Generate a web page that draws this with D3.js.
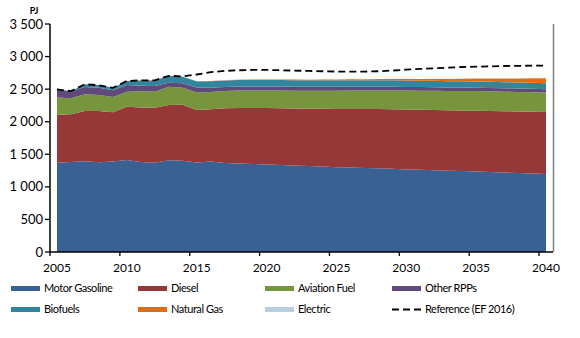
<!DOCTYPE html>
<html>
<head>
<meta charset="utf-8">
<script src="https://cdn.jsdelivr.net/npm/d3@7"></script>
<style>
  body { margin: 0; background: #fff; }
  svg { display: block; font-family: Lato, "Open Sans", sans-serif; }
</style>
</head>
<body>
<svg id="chart" width="580" height="338"></svg>
<script>
var years = d3.range(2005, 2041);
var gasoline = [1370,1380,1395,1378,1388,1412,1383,1370,1407,1400,1372,1388,1366,1360,1352,1345,1337,1328,1320,1311,1302,1296,1290,1284,1277,1268,1262,1256,1249,1242,1235,1228,1220,1212,1205,1197];
var diesel = [735,733,769,786,756,819,837,845,850,862,808,802,839,850,858,865,870,875,880,887,895,900,905,910,915,920,922,925,928,932,935,938,941,945,949,953];
var aviation = [265,247,256,246,236,230,246,246,281,261,270,265,265,268,270,270,272,274,276,278,280,282,284,286,288,290,292,294,296,298,300,300,300,300,300,298];
var otherRPP = [117,106,113,113,102,103,87,87,62,67,75,68,63,62,61,61,60,60,59,59,58,58,57,57,56,56,55,55,54,54,53,53,52,52,51,51];
var biofuels = [8,6,41,39,40,61,81,86,105,100,95,98,100,100,100,100,100,100,100,100,100,100,100,100,99,99,98,97,96,95,95,94,94,93,93,92];
var natGas = [1,1,1,1,1,1,1,1,1,2,3,4,5,6,7,8,9,10,11,12,13,14,16,18,20,22,25,29,33,38,44,50,56,62,70,77];
var electric = [0,0,0,0,0,0,0,0.5,0.5,0.5,1,1,1,1,1,1,1,1,2,2,2,2,2,2,3,3,3,3,3,4,4,4,4,5,5,5];
var reference = [2495,2470,2575,2560,2520,2625,2635,2635,2705,2695,2725,2760,2780,2790,2795,2795,2790,2785,2780,2775,2770,2770,2770,2775,2785,2800,2810,2820,2830,2840,2845,2850,2855,2858,2860,2862];
var yTicks = [0,500,1000,1500,2000,2500,3000,3500];
var xTicks = [2005,2010,2015,2020,2025,2030,2035,2040];

var series = [
  {key: "gasoline", name: "Motor Gasoline", values: gasoline, color: "#3a6193"},
  {key: "diesel", name: "Diesel", values: diesel, color: "#953837"},
  {key: "aviation", name: "Aviation Fuel", values: aviation, color: "#77953d"},
  {key: "otherRPP", name: "Other RPPs", values: otherRPP, color: "#604a7b"},
  {key: "biofuels", name: "Biofuels", values: biofuels, color: "#31869d"},
  {key: "natGas", name: "Natural Gas", values: natGas, color: "#e46c0a"},
  {key: "electric", name: "Electric", values: electric, color: "#b9cde5"}
];

var rows = years.map(function(y, i) {
  var r = {year: y};
  series.forEach(function(s) { r[s.key] = s.values[i]; });
  return r;
});

var svg = d3.select("#chart");
var x = d3.scaleLinear().domain([2004.5, 2040.5]).range([50, 553]);
var y = d3.scaleLinear().domain([0, 3500]).range([252, 24]);

var stack = d3.stack().keys(series.map(function(s) { return s.key; }));
var layers = stack(rows);

var area = d3.area()
  .x(function(d) { return x(d.data.year); })
  .y0(function(d) { return y(d[0]); })
  .y1(function(d) { return y(d[1]); });

svg.append("g").selectAll("path")
  .data(layers)
  .enter().append("path")
  .attr("d", area)
  .attr("fill", function(d, i) { return series[i].color; });

// reference line
var line = d3.line()
  .x(function(d, i) { return x(years[i]); })
  .y(function(d) { return y(d); });

svg.append("path")
  .datum(reference)
  .attr("d", line)
  .attr("fill", "none")
  .attr("stroke", "#000")
  .attr("stroke-width", 1.8)
  .attr("stroke-dasharray", "7,4");

// right border
svg.append("line")
  .attr("x1", 553.5).attr("x2", 553.5)
  .attr("y1", 24).attr("y2", 252)
  .attr("stroke", "#808080").attr("stroke-width", 1.5);

// y axis
var yAxis = svg.append("g");
yAxis.append("line")
  .attr("x1", 50).attr("x2", 50).attr("y1", 24).attr("y2", 252)
  .attr("stroke", "#000").attr("stroke-width", 1.5);
yAxis.selectAll("line.tick")
  .data(yTicks).enter().append("line")
  .attr("class", "tick")
  .attr("x1", 45).attr("x2", 50)
  .attr("y1", function(d) { return y(d); })
  .attr("y2", function(d) { return y(d); })
  .attr("stroke", "#000").attr("stroke-width", 1.3);
yAxis.selectAll("text")
  .data(yTicks).enter().append("text")
  .attr("x", 43)
  .attr("y", function(d) { return y(d); })
  .attr("dy", "0.35em")
  .attr("text-anchor", "end")
  .style("font-size", "13px")
  .text(function(d) { return d3.format(",")(d).replace(",", " "); });

// x axis
var xAxis = svg.append("g");
xAxis.append("line")
  .attr("x1", 50).attr("x2", 553).attr("y1", 252).attr("y2", 252)
  .attr("stroke", "#000").attr("stroke-width", 1.5);
xAxis.selectAll("line.tick")
  .data(xTicks).enter().append("line")
  .attr("class", "tick")
  .attr("x1", function(d) { return x(d - 0.5); })
  .attr("x2", function(d) { return x(d - 0.5); })
  .attr("y1", 252).attr("y2", 256)
  .attr("stroke", "#000").attr("stroke-width", 1.3);
xAxis.selectAll("text")
  .data(xTicks).enter().append("text")
  .attr("x", function(d) { return x(d); })
  .attr("y", 272)
  .attr("text-anchor", "middle")
  .style("font-size", "12px")
  .text(function(d) { return d; });

svg.append("text")
  .attr("x", 34).attr("y", 14)
  .attr("text-anchor", "middle")
  .style("font-size", "9px")
  .style("font-weight", "bold")
  .text("PJ");

// legend
var legendItems = series.map(function(s) { return {name: s.name, color: s.color, dashed: false}; });
legendItems.push({name: "Reference (EF 2016)", color: "#000", dashed: true});
var colX = [11, 138, 265, 392];
var rowY = [288.5, 309.5];

var leg = svg.append("g").selectAll("g")
  .data(legendItems).enter().append("g")
  .attr("transform", function(d, i) {
    return "translate(" + colX[i % 4] + "," + rowY[Math.floor(i / 4)] + ")";
  });
leg.filter(function(d) { return !d.dashed; }).append("rect")
  .attr("x", 0).attr("y", -2.5).attr("width", 29).attr("height", 5)
  .attr("fill", function(d) { return d.color; });
leg.filter(function(d) { return d.dashed; }).append("line")
  .attr("x1", 0).attr("x2", 29).attr("y1", 0).attr("y2", 0)
  .attr("stroke", "#000").attr("stroke-width", 1.8)
  .attr("stroke-dasharray", "7,4");
leg.append("text")
  .attr("x", 33).attr("y", 0).attr("dy", "0.35em")
  .style("font-size", "11px")
  .style("letter-spacing", "-0.45px")
  .text(function(d) { return d.name; });
</script>
</body>
</html>
